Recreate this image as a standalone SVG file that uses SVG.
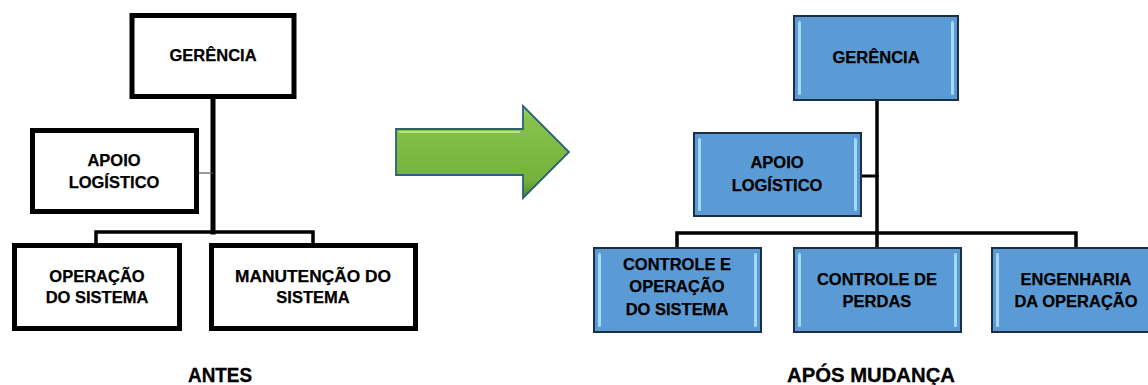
<svg xmlns="http://www.w3.org/2000/svg" width="1148" height="385" viewBox="0 0 1148 385">
<style>
.t{font-family:"Liberation Sans",Arial,sans-serif;font-weight:bold;font-size:16.5px;fill:#000;stroke:#000;stroke-width:0.25;text-anchor:middle}
.cap{font-family:"Liberation Sans",Arial,sans-serif;font-weight:bold;font-size:19.5px;fill:#000;stroke:#000;stroke-width:0.3}
.wb{fill:#fff;stroke:#000;stroke-width:5}
.bb{fill:#5b9bd5;stroke:#1c2f44;stroke-width:2}
.hl{fill:#aee0fb;opacity:0.9}
.ln{stroke:#000;fill:none;stroke-linecap:square}
</style>
<defs>
<linearGradient id="ga" x1="0" y1="0" x2="0" y2="1">
<stop offset="0" stop-color="#9fd866"/>
<stop offset="0.15" stop-color="#86c24c"/>
<stop offset="0.8" stop-color="#74b23c"/>
<stop offset="1" stop-color="#4f8a25"/>
</linearGradient>
</defs>
<rect width="1148" height="385" fill="#fff"/>
<g id="connectors">
<line class="ln" x1="213" y1="99" x2="213" y2="232" stroke-width="5"/>
<polyline class="ln" points="96,245 96,232 313,232 313,245" stroke-width="3.5"/>
<line x1="199" y1="173" x2="213" y2="173" stroke="#555" stroke-width="1.2"/>
<line class="ln" x1="877" y1="101" x2="877" y2="247" stroke-width="3.5"/>
<polyline class="ln" points="677,247 677,233 1076,233 1076,247" stroke-width="3.5"/>
<line class="ln" x1="862" y1="176" x2="877" y2="176" stroke-width="3"/>
</g>
<g id="antes-gerencia">
<rect class="wb" x="132" y="15.5" width="162" height="81"/>
<text class="t" x="213" y="61">GERÊNCIA</text>
</g>
<g id="antes-apoio">
<rect class="wb" x="32.5" y="130.5" width="164" height="81"/>
<text class="t" x="114" y="166">APOIO</text>
<text class="t" x="114" y="188">LOGÍSTICO</text>
</g>
<g id="antes-operacao">
<rect class="wb" x="14.5" y="245.5" width="165" height="83"/>
<text class="t" x="97" y="282">OPERAÇÃO</text>
<text class="t" x="97" y="303">DO SISTEMA</text>
</g>
<g id="antes-manutencao">
<rect class="wb" x="211.5" y="245.5" width="204" height="83"/>
<text class="t" x="313" y="282" textLength="156" lengthAdjust="spacingAndGlyphs">MANUTENÇÃO DO</text>
<text class="t" x="313" y="303">SISTEMA</text>
</g>
<g id="seta">
<path d="M396,129 L523,129 L523,106 L569,152 L523,198 L523,175 L396,175 Z" fill="url(#ga)" stroke="#2d6079" stroke-width="1.8" stroke-linejoin="miter"/>
<path d="M399,132 L520,132" stroke="#c4ec96" stroke-width="2" opacity="0.8"/>
</g>
<g id="apos-gerencia">
<rect class="bb" x="794" y="16" width="164" height="84"/>
<rect class="hl" x="798" y="21" width="3" height="74" rx="1.5"/>
<rect class="hl" x="951" y="21" width="3" height="74" rx="1.5"/>
<text class="t" x="876" y="63">GERÊNCIA</text>
</g>
<g id="apos-apoio">
<rect class="bb" x="694" y="133" width="167" height="83"/>
<rect class="hl" x="698" y="138" width="3" height="73" rx="1.5"/>
<rect class="hl" x="854" y="138" width="3" height="73" rx="1.5"/>
<text class="t" x="777" y="168">APOIO</text>
<text class="t" x="777" y="191">LOGÍSTICO</text>
</g>
<g id="apos-controle-operacao">
<rect class="bb" x="594" y="248" width="167" height="84"/>
<rect class="hl" x="598" y="253" width="3" height="74" rx="1.5"/>
<rect class="hl" x="754" y="253" width="3" height="74" rx="1.5"/>
<text class="t" x="677" y="270">CONTROLE E</text>
<text class="t" x="677" y="292">OPERAÇÃO</text>
<text class="t" x="677" y="315">DO SISTEMA</text>
</g>
<g id="apos-controle-perdas">
<rect class="bb" x="794" y="248" width="167" height="84"/>
<rect class="hl" x="798" y="253" width="3" height="74" rx="1.5"/>
<rect class="hl" x="954" y="253" width="3" height="74" rx="1.5"/>
<text class="t" x="877" y="285">CONTROLE DE</text>
<text class="t" x="877" y="307">PERDAS</text>
</g>
<g id="apos-engenharia">
<rect class="bb" x="992" y="248" width="167" height="84"/>
<rect class="hl" x="996" y="253" width="3" height="74" rx="1.5"/>
<text class="t" x="1076" y="285">ENGENHARIA</text>
<text class="t" x="1076" y="307">DA OPERAÇÃO</text>
</g>
<g id="legendas">
<text class="cap" x="188" y="382" textLength="64" lengthAdjust="spacingAndGlyphs">ANTES</text>
<text class="cap" x="787" y="382" textLength="168" lengthAdjust="spacingAndGlyphs">APÓS MUDANÇA</text>
</g>
</svg>
